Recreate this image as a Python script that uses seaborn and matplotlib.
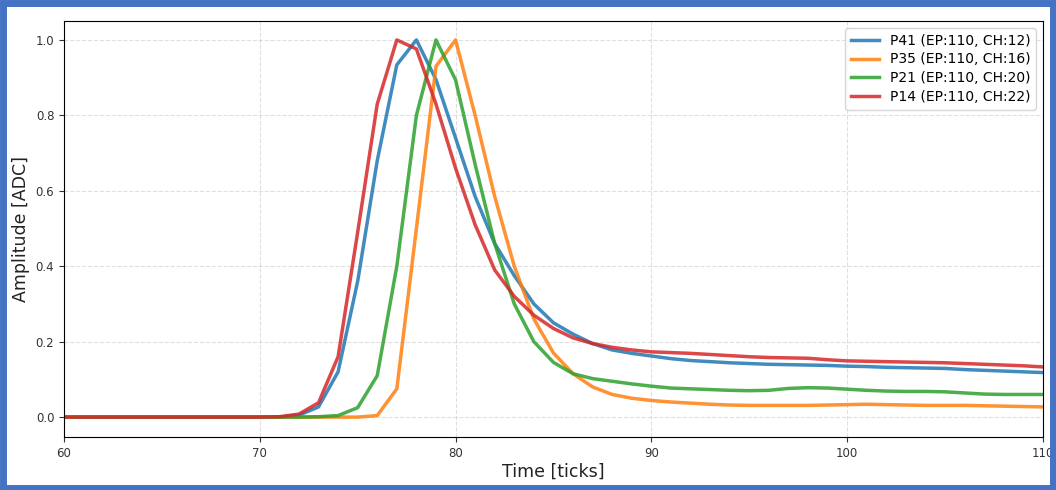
import numpy as np
import pandas as pd
import seaborn as sns
import matplotlib
matplotlib.use("Agg")
import matplotlib.pyplot as plt
from matplotlib.patches import Rectangle

# Time axis (ticks)
ticks = list(range(60, 111))

# Normalised waveforms, one value per tick from 60 to 110
p41 = [0.0] * 12 + [
    0.005, 0.027, 0.12, 0.36, 0.68, 0.934, 1.0, 0.895, 0.74, 0.585,
    0.46, 0.375, 0.30, 0.25, 0.22, 0.195, 0.178, 0.169, 0.162, 0.155,
    0.150, 0.147, 0.144, 0.142, 0.140, 0.139, 0.138, 0.137, 0.135, 0.134,
    0.132, 0.131, 0.130, 0.129, 0.126, 0.124, 0.122, 0.120, 0.118,
]
p35 = [0.0] * 16 + [
    0.004, 0.075, 0.50, 0.93, 1.0, 0.80, 0.585, 0.40, 0.26, 0.17,
    0.115, 0.08, 0.06, 0.05, 0.044, 0.040, 0.037, 0.034, 0.032, 0.031,
    0.031, 0.031, 0.031, 0.032, 0.033, 0.034, 0.033, 0.032, 0.031, 0.031,
    0.031, 0.030, 0.029, 0.028, 0.027,
]
p21 = [0.0] * 13 + [
    0.001, 0.004, 0.025, 0.11, 0.40, 0.80, 1.0, 0.894, 0.67, 0.46,
    0.30, 0.20, 0.145, 0.115, 0.102, 0.095, 0.088, 0.082, 0.077, 0.075,
    0.073, 0.071, 0.070, 0.071, 0.076, 0.078, 0.077, 0.074, 0.071, 0.069,
    0.068, 0.068, 0.067, 0.064, 0.061, 0.060, 0.060, 0.060,
]
p14 = [0.0] * 11 + [
    0.001, 0.008, 0.038, 0.16, 0.49, 0.83, 1.0, 0.976, 0.83, 0.66,
    0.51, 0.39, 0.32, 0.27, 0.235, 0.21, 0.195, 0.185, 0.178, 0.173,
    0.171, 0.169, 0.166, 0.163, 0.160, 0.158, 0.157, 0.156, 0.152, 0.149,
    0.148, 0.147, 0.146, 0.145, 0.144, 0.142, 0.140, 0.138, 0.136, 0.133,
]

labels = [
    "P41 (EP:110, CH:12)",
    "P35 (EP:110, CH:16)",
    "P21 (EP:110, CH:20)",
    "P14 (EP:110, CH:22)",
]
series = [p41, p35, p21, p14]

df = pd.concat(
    [pd.DataFrame({"Time": ticks, "Amplitude": s, "Probe": lab})
     for lab, s in zip(labels, series)],
    ignore_index=True,
)

plt.rcParams["font.family"] = ["DejaVu Sans"]

fig = plt.figure(figsize=(10.56, 4.90), dpi=100)
ax = fig.add_axes([0.0606, 0.108, 0.927, 0.849])

palette = ["#1f77b4", "#ff7f0e", "#2ca02c", "#d62728"]
sns.lineplot(data=df, x="Time", y="Amplitude", hue="Probe",
             palette=palette, linewidth=2.5, alpha=0.85, ax=ax)

ax.set_xlim(60, 110)
ax.set_ylim(-0.053, 1.05)
ax.set_xticks([60, 70, 80, 90, 100, 110])
ax.set_yticks([0.0, 0.2, 0.4, 0.6, 0.8, 1.0])
ax.tick_params(labelsize=8.5, colors="#333333")
ax.set_xlabel("Time [ticks]", fontsize=12.5, labelpad=2, color="#222222")
ax.set_ylabel("Amplitude [ADC]", fontsize=12.5, color="#222222")
ax.grid(True, linestyle="--", color="#b0b0b0", alpha=0.4, linewidth=0.8)

leg = ax.legend(loc="upper right", fontsize=10, framealpha=0.8,
                handlelength=2.0, borderpad=0.4, labelspacing=0.35)
for line in leg.get_lines():
    line.set_linewidth(2.5)

# Blue frame around the whole figure
fig.patches.append(Rectangle((0.003, 0.005), 0.994, 0.988, transform=fig.transFigure,
                             fill=False, edgecolor="#4472c4", linewidth=5))

fig.savefig("out.png", dpi=100)
